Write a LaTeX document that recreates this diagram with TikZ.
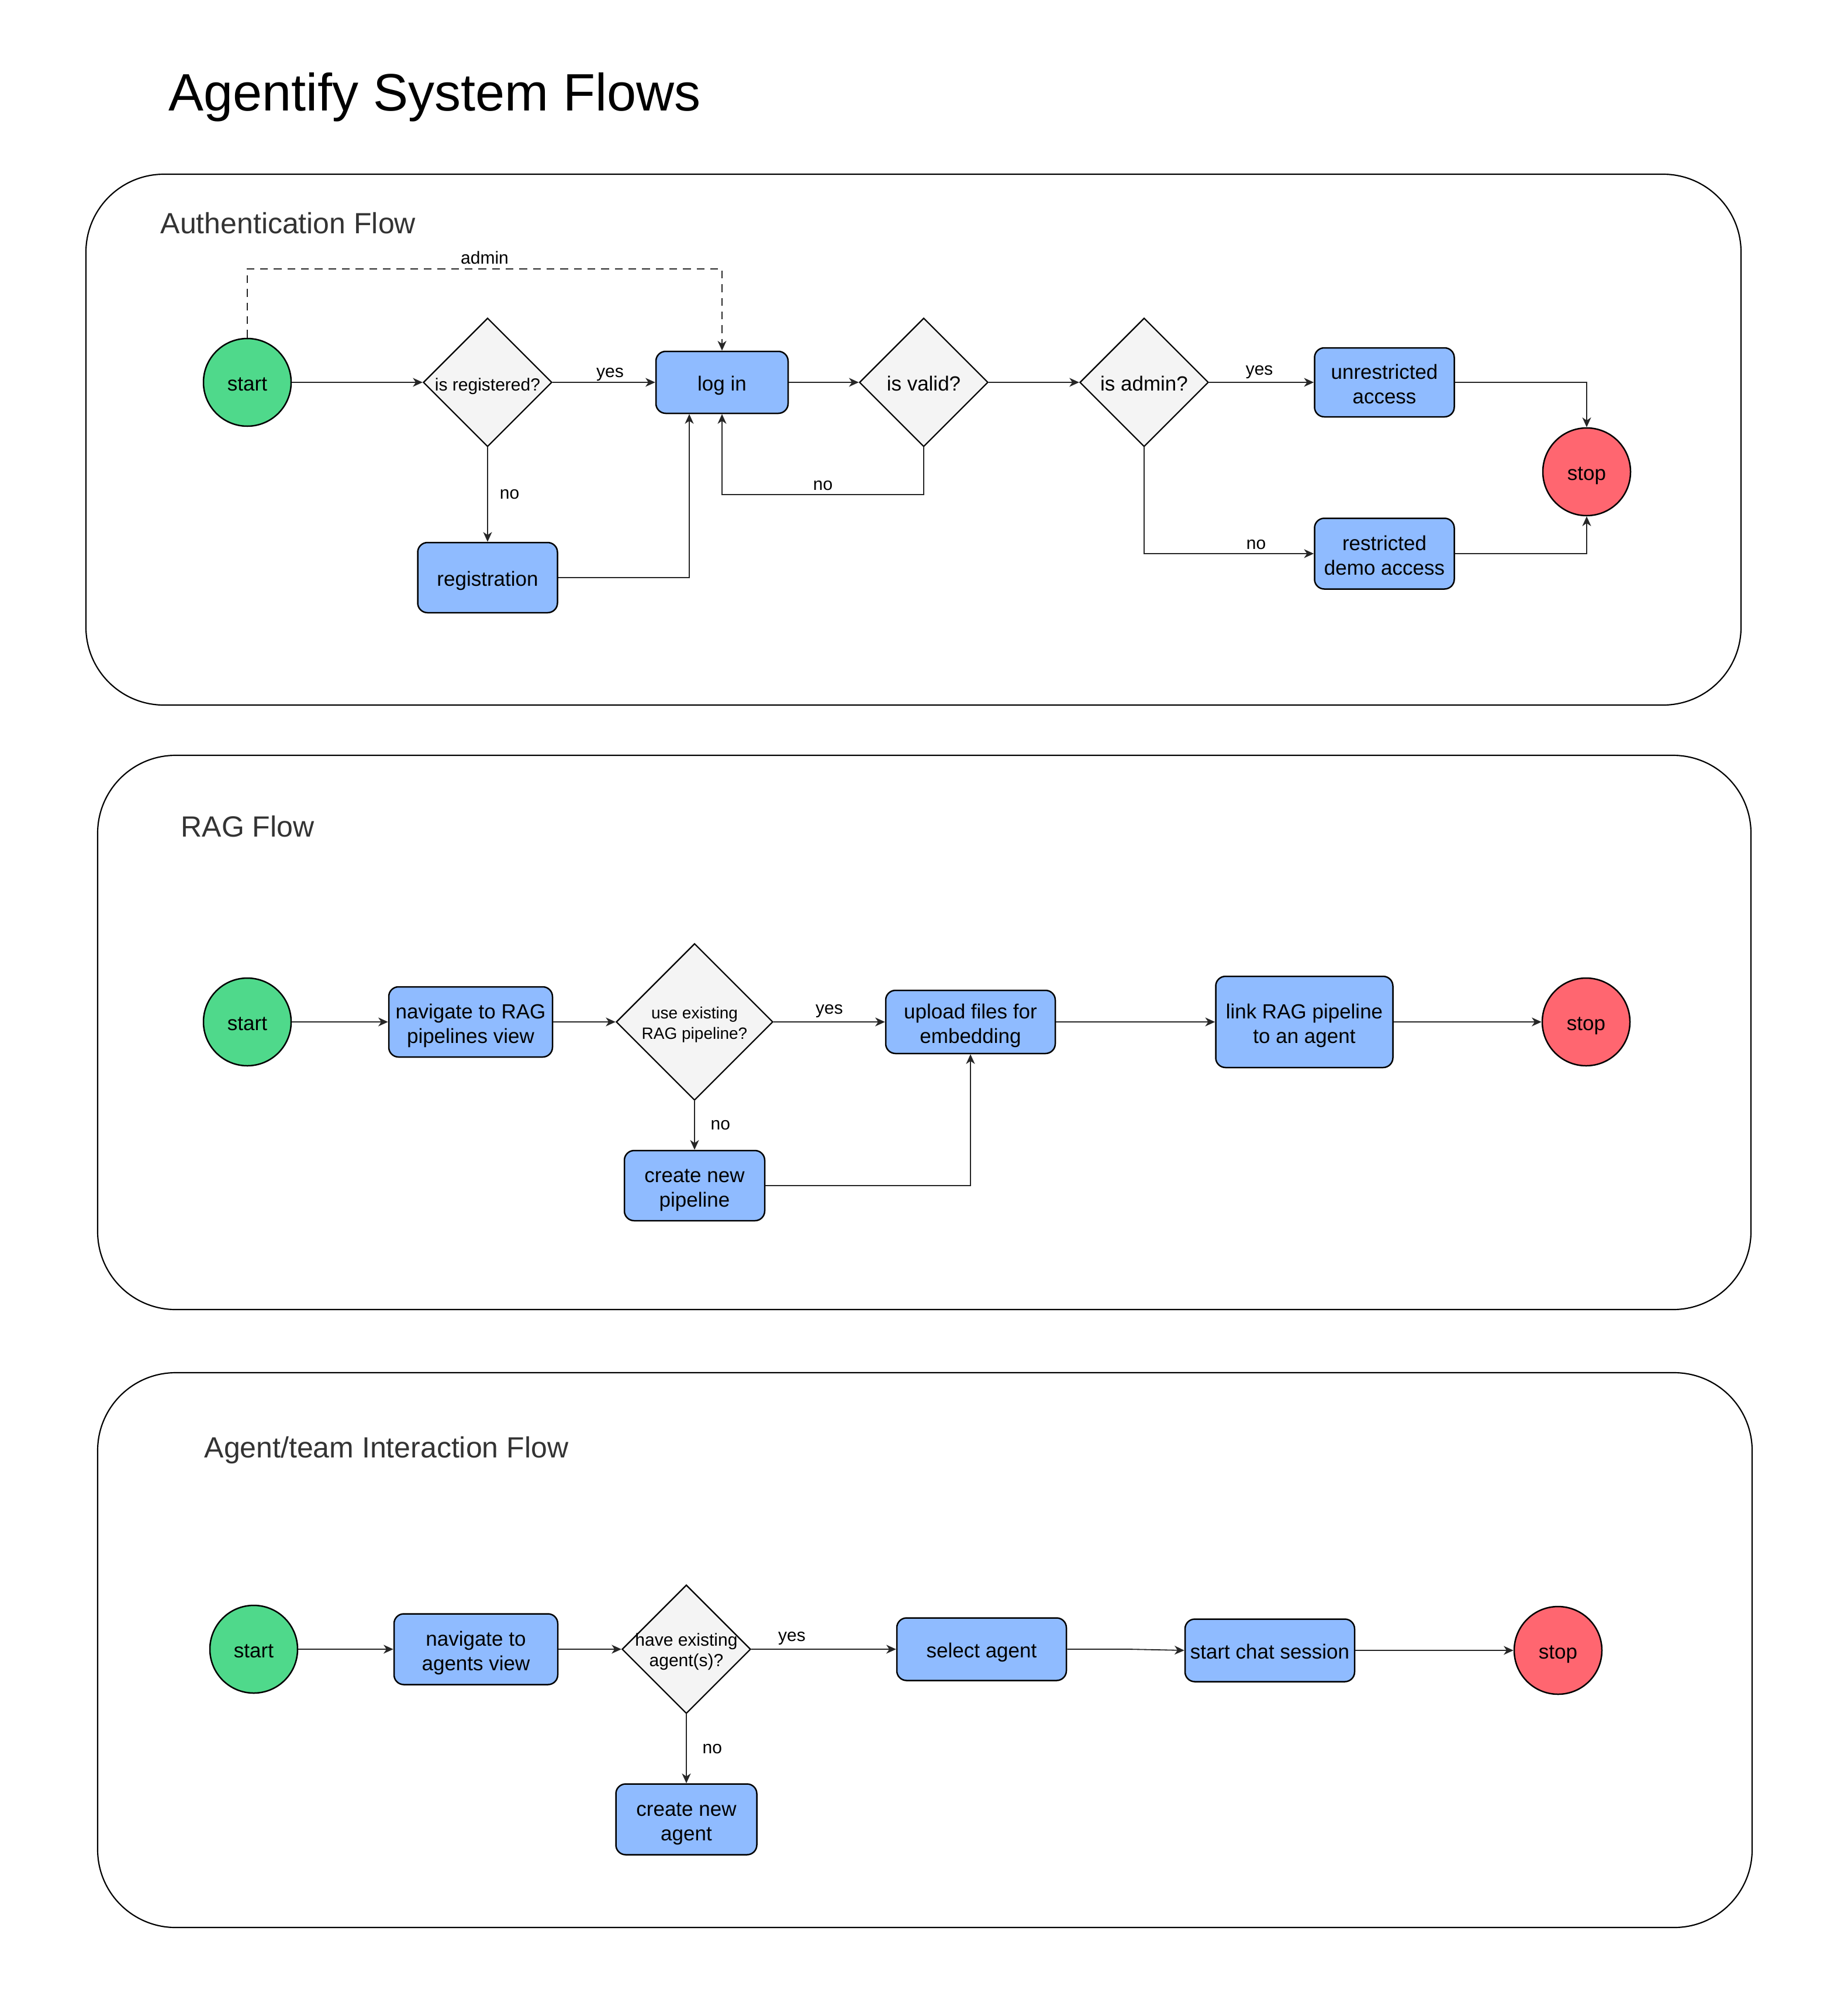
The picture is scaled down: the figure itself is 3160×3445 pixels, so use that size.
\documentclass[tikz,border=0pt]{standalone}
\usepackage{fontspec}
\setmainfont{Liberation Sans}
\usetikzlibrary{shapes.geometric,arrows.meta}
\definecolor{startgreen}{HTML}{4FD98B}
\definecolor{boxblue}{HTML}{8FBBFF}
\definecolor{stopred}{HTML}{FF6670}
\definecolor{decgray}{HTML}{F4F4F4}
\definecolor{titlegray}{HTML}{333333}
\newcommand\TwoL[2]{\rule{0pt}{11.5pt}#1\\#2\rule[-2.2pt]{0pt}{0pt}}
\begin{document}
\begin{tikzpicture}[x=0.3pt,y=-0.3pt,
  sz/.style 2 args={minimum width=#1*0.3pt,minimum height=#2*0.3pt},
  nfont/.style={font=\fontsize{10.5pt}{12.6pt}\selectfont},
  one/.style={text height=1.06em,text depth=0.2em},
  box/.style={draw,line width=0.75pt,rounded corners=5pt,fill=boxblue,align=center,inner sep=0pt,nfont},
  startc/.style={circle,draw,line width=0.75pt,fill=startgreen,minimum size=45pt,inner sep=0pt,nfont,one},
  stopc/.style={circle,draw,line width=0.75pt,fill=stopred,minimum size=45pt,inner sep=0pt,nfont,one},
  dec/.style={diamond,draw,line width=0.65pt,fill=decgray,inner sep=0pt,aspect=1},
  dfont/.style={font=\fontsize{9pt}{11pt}\selectfont,align=center,inner sep=0pt},
  arr/.style={draw=black!85,line width=0.55pt,-{Stealth[length=5pt,width=4.5pt,inset=1.5pt]}},
  lbl/.style={font=\fontsize{9pt}{10.8pt}\selectfont,inner sep=2pt},
  panel/.style={draw,line width=0.65pt,rounded corners=40pt},
  ptitle/.style={font=\fontsize{15pt}{18pt}\selectfont,text=titlegray,anchor=base west,inner sep=0pt},
]
\useasboundingbox (0,0) rectangle (3160,3445);

% title
\node[font=\fontsize{27pt}{32pt}\selectfont,anchor=base west,inner sep=0pt] (title) at (288,189) {Agentify System Flows};

% ---------- panel 1 ----------
\draw[panel] (147,298) rectangle (2978,1206);
\node[ptitle] (t1) at (274,399) {Authentication Flow};

\node[startc] (s1) at (423,654) {start};
\node[dec,sz={220}{220},label={[dfont,one]center:is registered?}] (isreg) at (834,654) {};
\node[box,one,sz={226}{106}] (login) at (1235,654) {log in};
\node[dec,sz={220}{220},label={[dfont,nfont,one]center:is valid?}] (isvalid) at (1580,654) {};
\node[dec,sz={220}{220},label={[dfont,nfont,one]center:is admin?}] (isadmin) at (1957,654) {};
\node[box,sz={239}{118}] (unres) at (2368,654) {\TwoL{unrestricted}{access}};
\node[box,sz={239}{121}] (restr) at (2368,947) {\TwoL{restricted}{demo access}};
\node[stopc] (stop1) at (2714,807) {stop};
\node[box,one,sz={239}{120}] (reg) at (834,988) {registration};

\draw[arr] (s1) -- (isreg);
\draw[arr] (isreg) -- node[lbl,above,pos=0.56,yshift=-1.5pt]{yes} (login);
\draw[arr] (isreg) -- node[lbl,right,xshift=4pt]{no} (reg);
\draw[arr] (reg.east) -| ([xshift=-16.8pt]login.south);
\draw[arr,dash pattern=on 4pt off 3pt] (s1.north) -- ++(0,-118) -| node[lbl,pos=0.25,above]{admin} (login.north);
\draw[arr] (login) -- (isvalid);
\draw[arr] (isvalid.south) -- ++(0,81) -| node[lbl,pos=0.25,above]{no} (login.south);
\draw[arr] (isvalid) -- (isadmin);
\draw[arr] (isadmin) -- node[lbl,above,pos=0.48,yshift=-0.5pt]{yes} (unres);
\draw[arr] (isadmin.south) |- node[lbl,pos=0.83,above]{no} (restr.west);
\draw[arr] (unres.east) -| (stop1.north);
\draw[arr] (restr.east) -| (stop1.south);

% ---------- panel 2 ----------
\draw[panel] (167,1292) rectangle (2995,2240);
\node[ptitle] (t2) at (309,1431) {RAG Flow};

\node[startc] (s2) at (423,1748) {start};
\node[box,sz={280}{120}] (nav2) at (805,1748) {\TwoL{navigate to RAG}{pipelines view}};
\node[dec,sz={268}{268},label={[dfont,font=\fontsize{8.4pt}{10.5pt}\selectfont]center:\rule{0pt}{9.1pt}use existing\\RAG pipeline?}] (d2) at (1188,1748) {};
\node[box,sz={290}{108}] (upl) at (1660,1748) {\TwoL{upload files for}{embedding}};
\node[box,sz={303}{156}] (link) at (2231,1748) {\TwoL{link RAG pipeline}{to an agent}};
\node[stopc] (stop2) at (2713,1748) {stop};
\node[box,sz={240}{120}] (cnp) at (1188,2028) {\TwoL{create new}{pipeline}};

\draw[arr] (s2) -- (nav2);
\draw[arr] (nav2) -- (d2);
\draw[arr] (d2) -- node[lbl,above]{yes} (upl);
\draw[arr] (d2) -- node[lbl,right,xshift=6pt]{no} (cnp);
\draw[arr] (cnp.east) -| (upl.south);
\draw[arr] (upl) -- (link);
\draw[arr] (link) -- (stop2);

% ---------- panel 3 ----------
\draw[panel] (167,2348) rectangle (2997,3297);
\node[ptitle] (t3) at (349,2493) {Agent/team Interaction Flow};

\node[startc] (s3) at (434,2821) {start};
\node[box,sz={280}{121}] (nav3) at (814,2821) {\TwoL{navigate to}{agents view}};
\node[dec,sz={220}{220},label={[dfont,font=\fontsize{9pt}{10.5pt}\selectfont]center:\rule{0pt}{9pt}have existing\\agent(s)?}] (d3) at (1174,2821) {};
\node[box,one,sz={290}{107}] (sel) at (1679,2821) {select agent};
\node[box,one,sz={290}{107}] (chat) at (2172,2823) {start chat session};
\node[stopc] (stop3) at (2665,2823) {stop};
\node[box,sz={241}{121}] (cna) at (1174,3112) {\TwoL{create new}{agent}};

\draw[arr] (s3) -- (nav3);
\draw[arr] (nav3) -- (d3);
\draw[arr] (d3) -- node[lbl,above,pos=0.28]{yes} (sel);
\draw[arr] (d3) -- node[lbl,right,xshift=6pt]{no} (cna);
\draw[arr] (sel.east) -- ++(106,0) -- (chat.west);
\draw[arr] (chat) -- (stop3);
\end{tikzpicture}
\end{document}
